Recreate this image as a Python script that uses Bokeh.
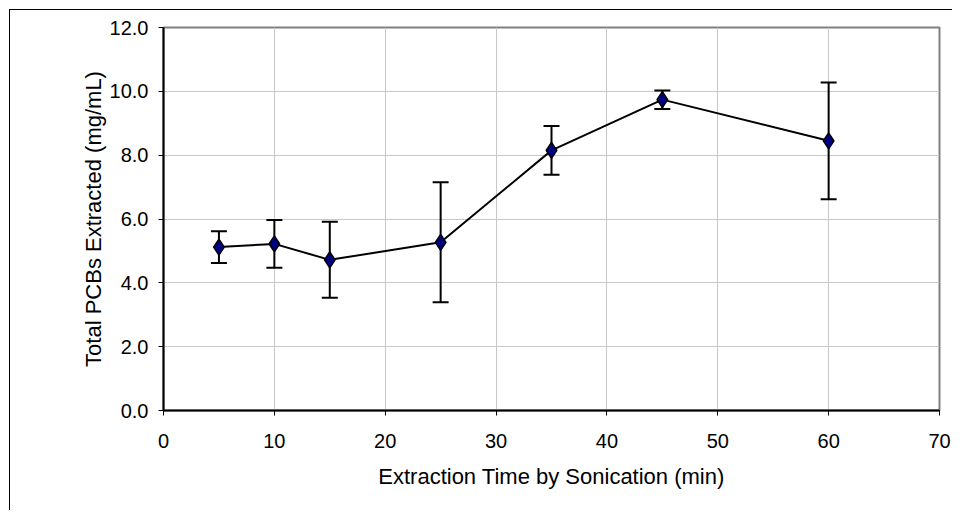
from bokeh.plotting import figure
from bokeh.models import Range1d, FixedTicker, NumeralTickFormatter, Whisker, TeeHead, ColumnDataSource
from bokeh.embed import file_html
from bokeh.resources import INLINE

# Data
time_min = [5, 10, 15, 25, 35, 45, 60]
pcb_total = [5.12, 5.22, 4.72, 5.27, 8.15, 9.74, 8.45]
pcb_err = [0.50, 0.75, 1.19, 1.88, 0.76, 0.29, 1.83]
x_ticks = [0, 10, 20, 30, 40, 50, 60, 70]
y_ticks = [0, 2, 4, 6, 8, 10, 12]

upper = [v + e for v, e in zip(pcb_total, pcb_err)]
lower = [v - e for v, e in zip(pcb_total, pcb_err)]
src = ColumnDataSource(data=dict(x=time_min, y=pcb_total, upper=upper, lower=lower))

FONT = "Liberation Sans"

p = figure(width=952, height=510, output_backend="svg", toolbar_location=None,
           x_range=Range1d(0, 70), y_range=Range1d(0, 12),
           min_border_left=163, min_border_right=13, min_border_top=27, min_border_bottom=100)

p.background_fill_color = "white"
p.border_fill_color = None
# outer chart-area frame: top and left edges (the rest lies beyond the window)
p.styles = {
    "background": ("linear-gradient(#000, #000) 9px 9px / 1px 100% no-repeat, "
                   "linear-gradient(#000, #000) 9px 9px / 100% 1px no-repeat, #fff"),
}
p.outline_line_color = "#808080"
p.outline_line_width = 2

p.xgrid.ticker = FixedTicker(ticks=x_ticks)
p.ygrid.ticker = FixedTicker(ticks=y_ticks)
p.xgrid.grid_line_color = "#c8c8c8"
p.ygrid.grid_line_color = "#c8c8c8"
p.xgrid.grid_line_width = 1
p.ygrid.grid_line_width = 1

for ax, ticks in ((p.xaxis[0], x_ticks), (p.yaxis[0], y_ticks)):
    ax.ticker = FixedTicker(ticks=ticks)
    ax.minor_tick_line_color = None
    ax.major_tick_in = 0
    ax.major_tick_out = 5
    ax.major_tick_line_color = "black"
    ax.major_tick_line_width = 1
    ax.axis_line_color = "black"
    ax.axis_line_width = 2
    ax.major_label_text_font = FONT
    ax.major_label_text_font_size = "20px"
    ax.major_label_text_color = "black"
    ax.axis_label_text_font = FONT
    ax.axis_label_text_font_size = "22px"
    ax.axis_label_text_font_style = "normal"
    ax.axis_label_text_color = "black"

p.yaxis[0].formatter = NumeralTickFormatter(format="0.0")
p.xaxis[0].axis_label = "Extraction Time by Sonication (min)"
p.yaxis[0].axis_label = "Total PCBs Extracted (mg/mL)"
p.xaxis[0].major_label_standoff = 18
p.yaxis[0].major_label_standoff = 10
p.xaxis[0].axis_label_standoff = 13
p.yaxis[0].axis_label_standoff = 1

p.line("x", "y", source=src, line_color="black", line_width=2)
w = Whisker(base="x", upper="upper", lower="lower", source=src,
            line_color="black", line_width=2,
            upper_head=TeeHead(size=16, line_color="black", line_width=2),
            lower_head=TeeHead(size=16, line_color="black", line_width=2))
p.add_layout(w)
p.scatter("x", "y", source=src, marker="diamond", size=16,
          fill_color="#000080", line_color="black", line_width=1.5)

open("out.html", "w").write(file_html(p, INLINE))
